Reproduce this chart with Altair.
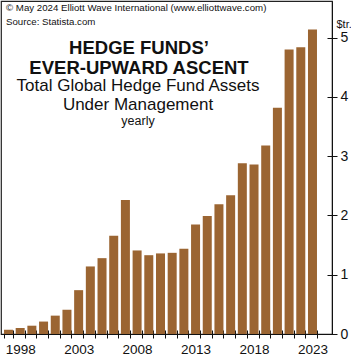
import json
import altair as alt
import pandas as pd

# ---- data ----
years = list(range(1997, 2024))
assets = [0.07, 0.10, 0.14, 0.21, 0.31, 0.41, 0.74, 1.14, 1.28, 1.66, 2.26,
          1.41, 1.33, 1.36, 1.37, 1.44, 1.85, 1.99, 2.19, 2.34, 2.88, 2.86,
          3.18, 3.82, 4.80, 4.84, 5.14]
label_years = [1998, 2003, 2008, 2013, 2018, 2023]
y_ticks = [0, 1, 2, 3, 4, 5]
header_lines = ["© May 2024 Elliott Wave International (www.elliottwave.com)",
                "Source: Statista.com"]
title_lines = ["HEDGE FUNDS’", "EVER-UPWARD ASCENT"]
subtitle_lines = ["Total Global Hedge Fund Assets", "Under Management"]
note_line = "yearly"
unit_label = "$tr."

df = pd.DataFrame({"year": years, "assets": assets})

W, H = 331, 333
FONT = "Liberation Sans"
INK = "#111111"
BROWN = "#9b6532"

x_scale = alt.Scale(paddingInner=0.23, paddingOuter=0.77, align=0.166)
y_scale = alt.Scale(domain=[0, 5.62], nice=False, zero=True)
label_expr = "indexof(" + json.dumps(label_years) + ", datum.value) >= 0 ? datum.value : ''"

bars = alt.Chart(df).mark_bar(color=BROWN).encode(
    x=alt.X("year:O", scale=x_scale,
            axis=alt.Axis(title=None, orient="bottom", tickBand="extent",
                          labelExpr=label_expr, labelAngle=0, labelFont=FONT,
                          labelFontSize=13.5, labelColor=INK, tickColor=INK,
                          domainColor=INK, tickSize=4, labelPadding=4,
                          labelOverlap=False)),
    y=alt.Y("assets:Q", scale=y_scale,
            axis=alt.Axis(orient="right", values=y_ticks, title=unit_label,
                          titleAngle=0, titleX=4, titleY=26.5, titleAlign="left",
                          titleBaseline="alphabetic", titleFont=FONT,
                          titleFontSize=11, titleFontWeight="normal",
                          titleColor=INK, labelFont=FONT, labelFontSize=14,
                          labelColor=INK, tickColor=INK, domainColor=INK,
                          tickSize=5, labelPadding=3, grid=False)),
)

inner_ticks = alt.Chart(df).mark_bar(opacity=0).encode(
    x=alt.X("year:O", scale=x_scale,
            axis=alt.Axis(title=None, orient="bottom", tickBand="extent",
                          labels=False, domain=False, tickColor=INK,
                          tickSize=4, offset=-4)),
    y=alt.Y("assets:Q", scale=y_scale,
            axis=alt.Axis(orient="right", values=y_ticks, title=None,
                          labels=False, domain=False, tickColor=INK,
                          tickSize=5, offset=-5, grid=False)),
)


def text_line(txt, x, y, size, align="center", weight="normal"):
    return alt.Chart(pd.DataFrame({"t": [txt]})).mark_text(
        font=FONT, fontSize=size, fontWeight=weight, align=align,
        baseline="alphabetic", color=INK,
    ).encode(text="t:N", x=alt.value(x), y=alt.value(y))


texts = [
    text_line(header_lines[0], 5, 9.5, 9.7, align="left"),
    text_line(header_lines[1], 5, 24, 9.7, align="left"),
    text_line(title_lines[0], 138, 52.5, 18.5, weight="bold"),
    text_line(title_lines[1], 138, 72.5, 18.5, weight="bold"),
    text_line(subtitle_lines[0], 137, 90, 17),
    text_line(subtitle_lines[1], 137, 109, 17),
    text_line(note_line, 137, 124, 12.5),
]

chart = alt.layer(bars, inner_ticks, *texts).resolve_axis(
    x="independent", y="independent"
).properties(
    width=W, height=H,
    autosize=alt.AutoSizeParams(type="none"),
    padding={"left": 1, "top": 1, "right": 19, "bottom": 23},
    background="white",
).configure_view(stroke="#222222", strokeWidth=1.2)

chart.save("out.html", embed_options={"renderer": "svg", "actions": False})
